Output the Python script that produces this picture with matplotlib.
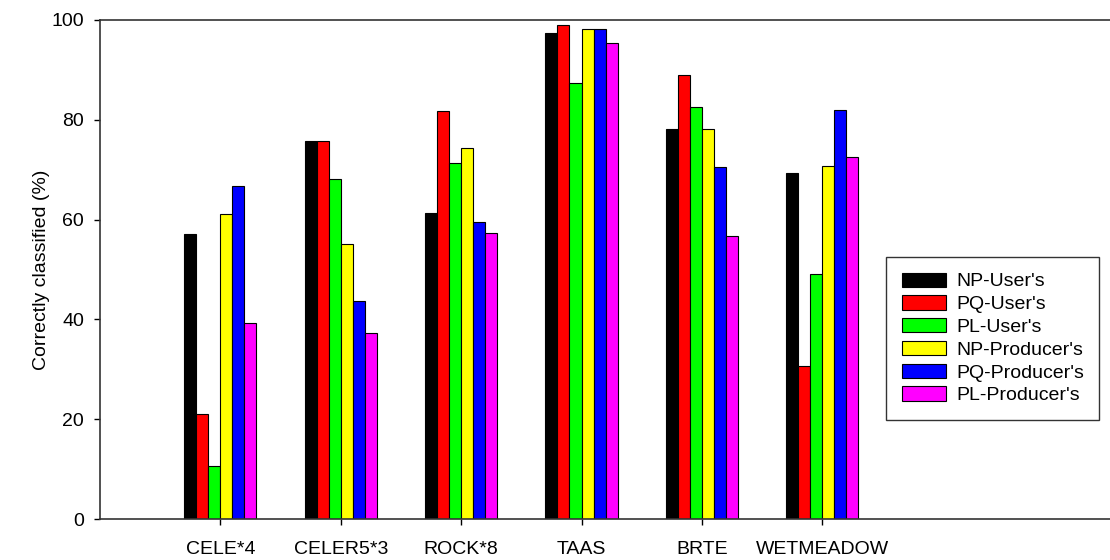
import numpy as np
import matplotlib
matplotlib.use("Agg")
import matplotlib.pyplot as plt

plt.rcParams['font.family'] = ['Liberation Sans', 'DejaVu Sans']

categories = ["CELE*4", "CELER5*3", "ROCK*8", "TAAS", "BRTE", "WETMEADOW"]
series_names = ["NP-User's", "PQ-User's", "PL-User's",
                "NP-Producer's", "PQ-Producer's", "PL-Producer's"]
colors = ["#000000", "#ff0000", "#00ff00", "#ffff00", "#0000ff", "#ff00ff"]

np_user = [57.1, 75.8, 61.4, 97.4, 78.2, 69.3]
pq_user = [21.0, 75.8, 81.8, 98.9, 89.0, 30.6]
pl_user = [10.6, 68.2, 71.3, 87.4, 82.5, 49.0]
np_prod = [61.2, 55.2, 74.4, 98.1, 78.2, 70.7]
pq_prod = [66.7, 43.7, 59.5, 98.1, 70.6, 82.0]
pl_prod = [39.3, 37.3, 57.3, 95.3, 56.7, 72.6]
series = [np_user, pq_user, pl_user, np_prod, pq_prod, pl_prod]

W, H = 1110, 560
fig = plt.figure(figsize=(W / 100, H / 100), dpi=100)
ax = fig.add_axes([100 / W, 1 - 519 / H, 1 - 100 / W, (519 - 20) / H])

x = np.arange(len(categories))
width = 0.1
for i, (vals, name, c) in enumerate(zip(series, series_names, colors)):
    ax.bar(x + (i - 2.5) * width, vals, width, color=c, edgecolor='black',
           linewidth=0.8, label=name)

ax.set_xlim(-1, 7.39)
ax.set_ylim(0, 100)
ax.set_yticks([0, 20, 40, 60, 80, 100])
ax.set_xticks(x)
ax.set_xticklabels(categories)
ax.tick_params(axis='both', labelsize=14, direction='out', length=4.5, width=1)
ax.tick_params(axis='x', pad=11)
ax.tick_params(axis='y', pad=7)
ax.set_ylabel("Correctly classified (%)", fontsize=14, labelpad=1)

ax.spines['right'].set_visible(False)
for s in ['left', 'top', 'bottom']:
    ax.spines[s].set_linewidth(1.2)
    ax.spines[s].set_color('#333333')

leg = ax.legend(loc='upper left', bbox_to_anchor=(886 / W, 1 - 257 / H),
                bbox_transform=fig.transFigure, borderaxespad=0,
                fontsize=14, frameon=True, fancybox=False, edgecolor='black',
                handlelength=2.3, handleheight=0.75, handletextpad=0.5,
                labelspacing=0.25, borderpad=0.8)
leg.get_frame().set_linewidth(1.0)

fig.savefig("out.png", dpi=100)
